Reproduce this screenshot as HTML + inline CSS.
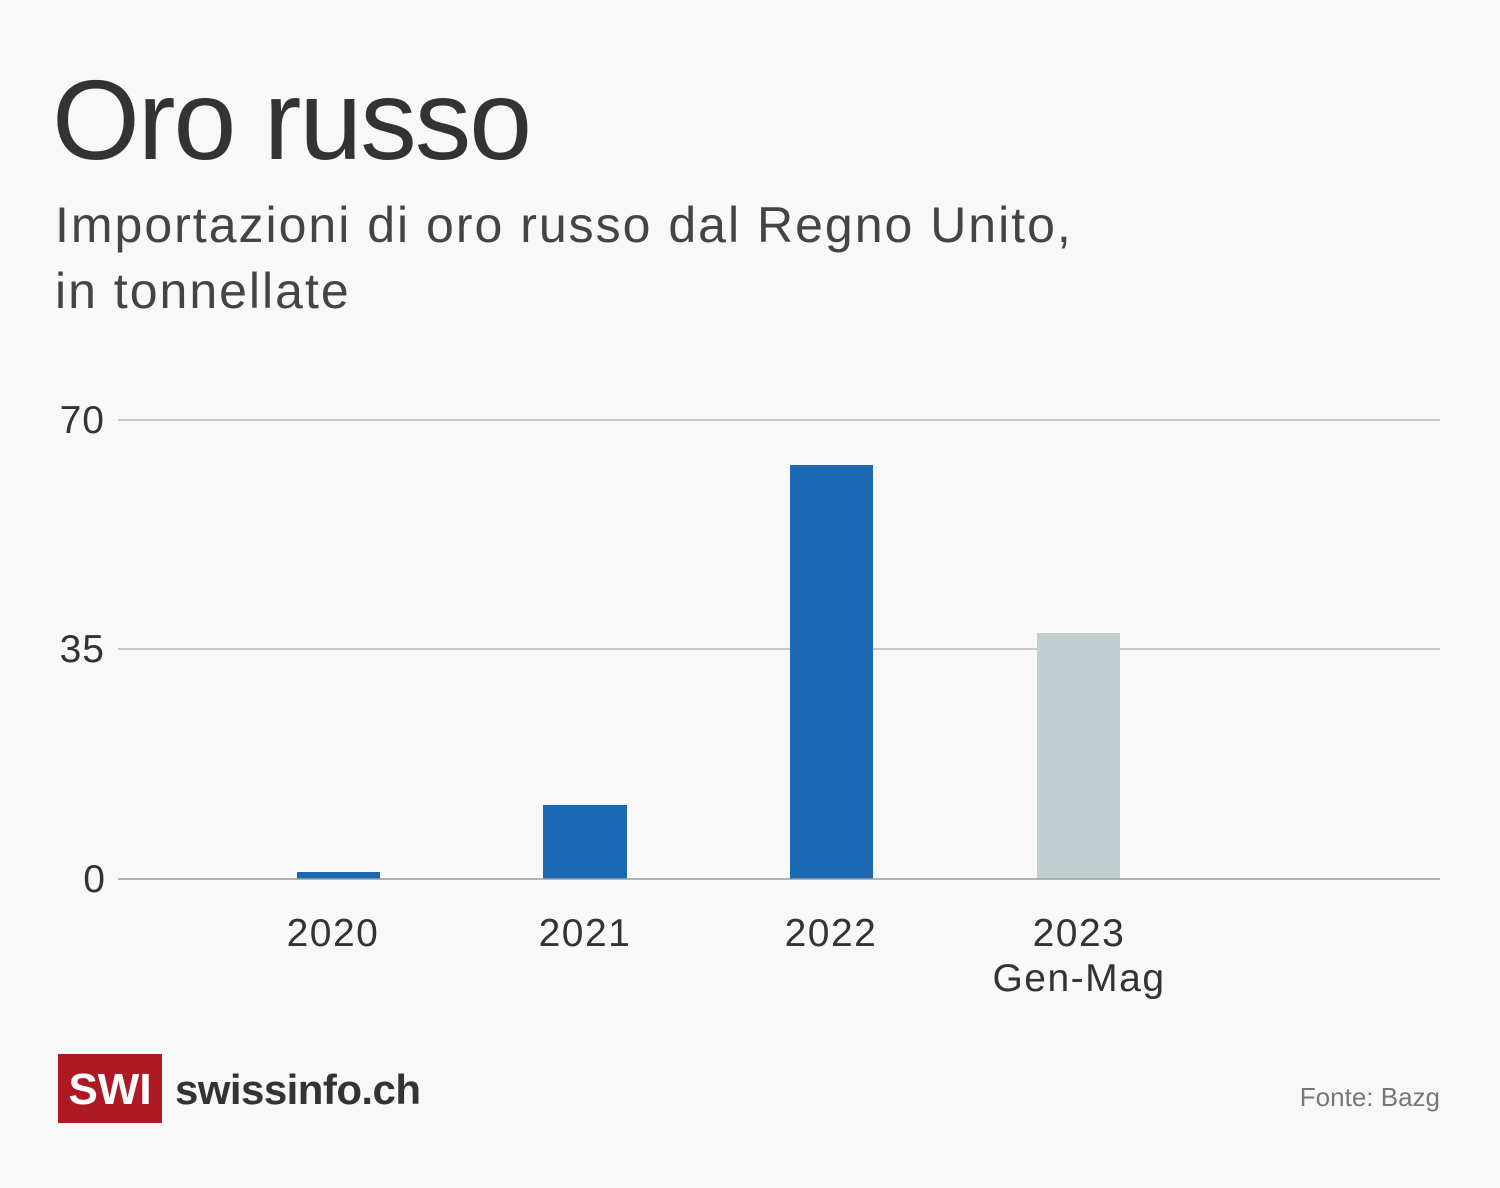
<!DOCTYPE html>
<html><head><meta charset="utf-8"><style>
body{margin:0;width:1500px;height:1188px;background:#f8f8f8;position:relative;overflow:hidden;font-family:"Liberation Sans",sans-serif;color:#333}
.a{position:absolute;white-space:nowrap}
</style></head><body>
<div class="a" style="left:52px;top:55px;font-size:113px;line-height:130px;color:#333;letter-spacing:-2px">Oro russo</div>
<div class="a" style="left:55px;top:192px;font-size:50px;line-height:66px;color:#444;letter-spacing:2px">Importazioni di oro russo dal Regno Unito,<br>in tonnellate</div>
<svg class="a" style="left:0;top:0" width="1500" height="1188">
<g stroke="#b5b5b5" stroke-width="1.5"><line x1="118" y1="420" x2="1440" y2="420"/><line x1="118" y1="649" x2="1440" y2="649"/></g>
<rect x="297" y="872" width="83" height="7" fill="#1b69b3"/>
<rect x="543" y="805" width="84" height="74" fill="#1b69b3"/>
<rect x="790" y="465" width="83" height="414" fill="#1b69b3"/>
<rect x="1037" y="633" width="83" height="246" fill="#c1cfd0"/>
<line x1="118" y1="879" x2="1440" y2="879" stroke="#999" stroke-width="1.5"/>
<g font-family="Liberation Sans,sans-serif" font-size="39" fill="#333">
<text x="105" y="433" text-anchor="end" letter-spacing="1">70</text>
<text x="105" y="662" text-anchor="end" letter-spacing="1">35</text>
<text x="105" y="892" text-anchor="end">0</text>
<g text-anchor="middle" letter-spacing="1.5"><text x="333" y="946">2020</text><text x="585" y="946">2021</text><text x="831" y="946">2022</text><text x="1079" y="946">2023</text><text x="1079" y="991">Gen-Mag</text></g>
</g>
<rect x="58" y="1054" width="104" height="69" fill="#ad1a23"/>
<text x="110" y="1104" text-anchor="middle" font-family="Liberation Sans,sans-serif" font-weight="bold" font-size="44" fill="#fff">SWI</text>
<text x="175" y="1104" font-family="Liberation Sans,sans-serif" font-weight="bold" font-size="42" fill="#333" textLength="246">swissinfo.ch</text>
<text x="1440" y="1106" text-anchor="end" font-family="Liberation Sans,sans-serif" font-size="26" fill="#777">Fonte: Bazg</text>
</svg>
</body></html>
